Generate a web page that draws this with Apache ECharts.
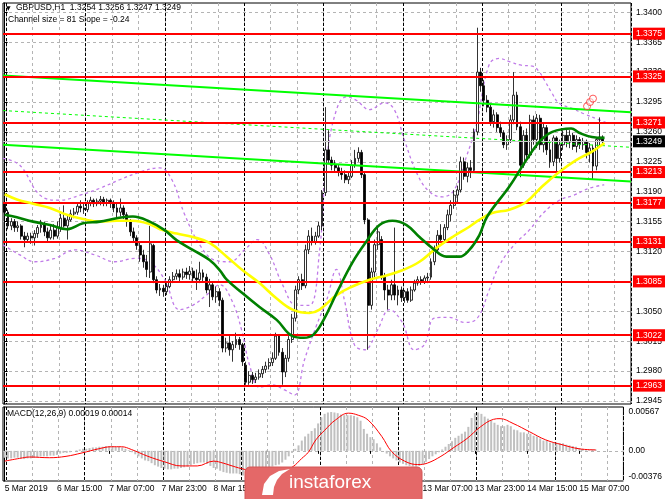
<!DOCTYPE html>
<html>
<head>
<meta charset="utf-8">
<script src="https://cdn.jsdelivr.net/npm/echarts@6/dist/echarts.min.js"></script>
<style>
  html, body { margin: 0; padding: 0; background: #fff; }
  #chart { width: 665px; height: 499px; }
</style>
</head>
<body>
<div id="chart"></div>
<script>
// GBPUSD H1, 5 Mar 23:00 .. 15 Mar 12:00 — [open, close, low, high]
const ohlc = [
  [1.3177,1.3166,1.3164,1.3180],[1.3166,1.3150,1.3146,1.3169],[1.3150,1.3155,1.3145,1.3159],[1.3155,1.3148,1.3143,1.3158],
  [1.3148,1.3150,1.3143,1.3155],[1.3150,1.3138,1.3134,1.3152],[1.3138,1.3134,1.3125,1.3143],[1.3134,1.3138,1.3130,1.3142],
  [1.3138,1.3136,1.3129,1.3142],[1.3136,1.3141,1.3127,1.3145],[1.3141,1.3148,1.3136,1.3151],[1.3148,1.3151,1.3142,1.3157],
  [1.3151,1.3143,1.3138,1.3155],[1.3143,1.3136,1.3131,1.3148],[1.3136,1.3145,1.3134,1.3150],[1.3145,1.3138,1.3134,1.3152],
  [1.3138,1.3148,1.3135,1.3155],[1.3148,1.3159,1.3143,1.3164],[1.3159,1.3150,1.3148,1.3174],[1.3150,1.3157,1.3134,1.3163],
  [1.3157,1.3164,1.3155,1.3169],[1.3164,1.3166,1.3159,1.3171],[1.3166,1.3173,1.3163,1.3177],[1.3173,1.3171,1.3166,1.3180],
  [1.3171,1.3169,1.3164,1.3176],[1.3169,1.3177,1.3166,1.3180],[1.3177,1.3180,1.3173,1.3184],[1.3180,1.3176,1.3172,1.3182],
  [1.3176,1.3179,1.3173,1.3182],[1.3179,1.3181,1.3174,1.3185],[1.3181,1.3177,1.3173,1.3184],[1.3177,1.3180,1.3173,1.3182],
  [1.3180,1.3177,1.3171,1.3182],[1.3177,1.3171,1.3166,1.3180],[1.3171,1.3166,1.3159,1.3176],[1.3166,1.3171,1.3161,1.3182],
  [1.3171,1.3163,1.3158,1.3174],[1.3163,1.3155,1.3149,1.3166],[1.3155,1.3143,1.3138,1.3158],[1.3143,1.3136,1.3131,1.3148],
  [1.3136,1.3127,1.3122,1.3139],[1.3127,1.3116,1.3108,1.3130],[1.3116,1.3108,1.3101,1.3122],[1.3108,1.3099,1.3090,1.3116],
  [1.3096,1.3129,1.3089,1.3150],[1.3127,1.3087,1.3083,1.3129],[1.3087,1.3075,1.3071,1.3091],[1.3075,1.3077,1.3068,1.3082],
  [1.3077,1.3073,1.3067,1.3081],[1.3073,1.3079,1.3069,1.3083],[1.3079,1.3087,1.3077,1.3091],[1.3087,1.3091,1.3083,1.3096],
  [1.3091,1.3094,1.3087,1.3099],[1.3094,1.3090,1.3085,1.3099],[1.3090,1.3096,1.3087,1.3100],[1.3096,1.3093,1.3088,1.3101],
  [1.3093,1.3097,1.3087,1.3103],[1.3097,1.3089,1.3084,1.3101],[1.3089,1.3087,1.3075,1.3099],[1.3087,1.3095,1.3083,1.3108],
  [1.3095,1.3090,1.3085,1.3099],[1.3090,1.3075,1.3071,1.3094],[1.3075,1.3081,1.3055,1.3088],[1.3081,1.3067,1.3063,1.3084],
  [1.3067,1.3073,1.3060,1.3079],[1.3073,1.3063,1.3056,1.3077],[1.3063,1.3007,1.3002,1.3066],[1.3007,1.3013,1.3002,1.3019],
  [1.3013,1.3005,1.2998,1.3021],[1.3005,1.3011,1.2991,1.3015],[1.3011,1.3017,1.3007,1.3025],[1.3017,1.3011,1.3005,1.3020],
  [1.3011,1.2991,1.2986,1.3013],[1.2987,1.2967,1.2964,1.2991],[1.2967,1.2975,1.2964,1.2980],[1.2975,1.2970,1.2965,1.2979],
  [1.2970,1.2973,1.2966,1.2978],[1.2973,1.2977,1.2970,1.2982],[1.2977,1.2982,1.2972,1.2986],[1.2982,1.2986,1.2978,1.2991],
  [1.2986,1.2990,1.2982,1.2995],[1.2990,1.2995,1.2986,1.3002],[1.2995,1.3021,1.2993,1.3025],[1.3021,1.3002,1.2998,1.3023],
  [1.3002,1.2979,1.2964,1.3007],[1.2979,1.2995,1.2973,1.2999],[1.2995,1.3017,1.2991,1.3021],[1.3017,1.3042,1.3013,1.3047],
  [1.3042,1.3075,1.3038,1.3080],[1.3075,1.3087,1.3070,1.3091],[1.3087,1.3080,1.3075,1.3094],[1.3080,1.3122,1.3077,1.3128],
  [1.3122,1.3138,1.3117,1.3145],[1.3138,1.3131,1.3127,1.3148],[1.3131,1.3138,1.3128,1.3143],[1.3138,1.3150,1.3136,1.3155],
  [1.3150,1.3189,1.3145,1.3192],[1.3189,1.3239,1.3185,1.3289],[1.3239,1.3227,1.3224,1.3262],[1.3227,1.3221,1.3215,1.3231],
  [1.3221,1.3218,1.3213,1.3227],[1.3218,1.3213,1.3208,1.3222],[1.3213,1.3210,1.3204,1.3218],[1.3210,1.3204,1.3200,1.3215],
  [1.3204,1.3208,1.3199,1.3213],[1.3208,1.3221,1.3206,1.3227],[1.3221,1.3229,1.3218,1.3239],[1.3229,1.3236,1.3225,1.3242],
  [1.3236,1.3210,1.3206,1.3239],[1.3210,1.3157,1.3152,1.3213],[1.3157,1.3057,1.3005,1.3159],[1.3057,1.3096,1.3052,1.3101],
  [1.3096,1.3128,1.3089,1.3134],[1.3128,1.3143,1.3122,1.3148],[1.3134,1.3090,1.3087,1.3138],[1.3090,1.3075,1.3063,1.3095],
  [1.3075,1.3069,1.3052,1.3081],[1.3069,1.3081,1.3063,1.3087],[1.3081,1.3069,1.3063,1.3148],[1.3069,1.3075,1.3057,1.3080],
  [1.3075,1.3066,1.3061,1.3079],[1.3066,1.3073,1.3060,1.3075],[1.3073,1.3063,1.3060,1.3077],[1.3063,1.3075,1.3061,1.3079],
  [1.3075,1.3083,1.3073,1.3087],[1.3083,1.3087,1.3080,1.3091],[1.3087,1.3084,1.3081,1.3091],[1.3084,1.3089,1.3082,1.3092],
  [1.3089,1.3090,1.3083,1.3095],[1.3090,1.3108,1.3087,1.3112],[1.3108,1.3122,1.3104,1.3127],[1.3122,1.3139,1.3119,1.3145],
  [1.3139,1.3134,1.3131,1.3152],[1.3134,1.3148,1.3131,1.3152],[1.3148,1.3163,1.3145,1.3169],[1.3163,1.3174,1.3155,1.3180],
  [1.3174,1.3186,1.3170,1.3192],[1.3186,1.3192,1.3178,1.3197],[1.3192,1.3225,1.3189,1.3231],[1.3225,1.3208,1.3204,1.3230],
  [1.3208,1.3218,1.3201,1.3224],[1.3218,1.3215,1.3206,1.3227],[1.3215,1.3260,1.3213,1.3264],[1.3260,1.3330,1.3256,1.3382],
  [1.3330,1.3314,1.3307,1.3335],[1.3314,1.3297,1.3290,1.3321],[1.3297,1.3289,1.3283,1.3303],[1.3289,1.3272,1.3267,1.3293],
  [1.3272,1.3280,1.3265,1.3286],[1.3280,1.3265,1.3260,1.3283],[1.3265,1.3259,1.3254,1.3272],[1.3259,1.3245,1.3241,1.3262],
  [1.3245,1.3251,1.3239,1.3256],[1.3251,1.3274,1.3247,1.3280],[1.3274,1.3303,1.3269,1.3330],[1.3303,1.3266,1.3262,1.3307],
  [1.3266,1.3221,1.3207,1.3272],[1.3221,1.3256,1.3218,1.3262],[1.3256,1.3233,1.3227,1.3264],[1.3233,1.3274,1.3229,1.3280],
  [1.3274,1.3251,1.3245,1.3279],[1.3251,1.3276,1.3241,1.3281],[1.3276,1.3245,1.3239,1.3280],[1.3245,1.3265,1.3236,1.3270],
  [1.3265,1.3239,1.3233,1.3268],[1.3239,1.3225,1.3218,1.3251],[1.3225,1.3253,1.3220,1.3256],[1.3253,1.3229,1.3213,1.3255],
  [1.3229,1.3245,1.3224,1.3251],[1.3245,1.3256,1.3239,1.3262],[1.3256,1.3248,1.3242,1.3264],[1.3248,1.3256,1.3241,1.3262],
  [1.3256,1.3243,1.3239,1.3259],[1.3243,1.3251,1.3236,1.3256],[1.3251,1.3245,1.3240,1.3254],[1.3245,1.3249,1.3239,1.3253],
  [1.3249,1.3236,1.3229,1.3251],[1.3236,1.3241,1.3224,1.3247],[1.3241,1.3220,1.3204,1.3245],[1.3220,1.3251,1.3215,1.3254],
  [1.3251,1.3254,1.3243,1.3277],[1.3254,1.3249,1.3247,1.3256]
];

// moving averages, read as [bar, price]
const maGreen = [
  [0,1.3163],[3.7,1.3160],[8.6,1.3155],[13.7,1.3151],[18.8,1.3146],[23.7,1.3153],[28.8,1.3155],[33.9,1.3159],
  [38.8,1.3161],[43.9,1.3155],[48.4,1.3145],[52.1,1.3133],[56.9,1.3122],[62,1.3110],[65.1,1.3098],[67.2,1.3087],
  [72,1.3071],[77.1,1.3055],[82.3,1.3040],[87.1,1.3021],[90.5,1.3019],[93.5,1.3023],[96.5,1.3040],[100.4,1.3071],
  [105.2,1.3107],[109.5,1.3132],[113.4,1.3151],[117.3,1.3156],[121.6,1.3151],[125.5,1.3137],[129.4,1.3124],
  [133.6,1.3114],[137.6,1.3114],[140.6,1.3122],[143.6,1.3139],[146,1.3161],[152.7,1.3196],[157.8,1.3227],
  [161.9,1.3249],[165.7,1.3260],[171.4,1.3264],[173.8,1.3259],[177.7,1.3254],[181.5,1.3253]
];
const maYellow = [
  [0,1.3187],[3.7,1.3181],[8.6,1.3176],[13.7,1.3171],[18.8,1.3163],[23.7,1.3158],[28.8,1.3155],[33.9,1.3156],
  [38.8,1.3156],[43.9,1.3152],[47,1.3146],[52.1,1.3141],[56.9,1.3137],[62,1.3130],[67.2,1.3114],[72,1.3098],
  [77.1,1.3083],[82.3,1.3065],[87.1,1.3052],[92.2,1.3048],[95.3,1.3052],[100.4,1.3069],[105.2,1.3079],[110.4,1.3087],
  [115.5,1.3092],[120.3,1.3098],[125.5,1.3108],[130.6,1.3124],[135.5,1.3137],[140.6,1.3149],[143.6,1.3157],
  [147.5,1.3165],[152.7,1.3169],[157.8,1.3178],[162.6,1.3196],[167.8,1.3213],[172.9,1.3227],[177.7,1.3237],[181.5,1.3247]
];
const bandUpper = [
  [-0.5,1.3229],[4.6,1.3221],[10.7,1.3186],[16.7,1.3180],[22.8,1.3186],[28.8,1.3194],[34.8,1.3204],[40.9,1.3213],
  [46.9,1.3218],[50.6,1.3204],[54.5,1.3163],[59,1.3128],[63.5,1.3110],[68.1,1.3108],[72.6,1.3122],[76.5,1.3134],
  [80.2,1.3116],[84.1,1.3081],[88.3,1.3057],[92.2,1.3057],[95.3,1.3122],[97.4,1.3227],[100.4,1.3286],[103.4,1.3301],
  [106.4,1.3297],[110.4,1.3286],[114.9,1.3294],[117.9,1.3286],[120.9,1.3251],[124.9,1.3210],[128.5,1.3190],
  [132.4,1.3184],[136,1.3192],[139.7,1.3231],[142.7,1.3268],[146.6,1.3339],[149.7,1.3346],[152.9,1.3342],
  [156.5,1.3338],[159.7,1.3337],[161.6,1.3331],[163.4,1.3320],[165.5,1.3306],[167.6,1.3294],[171.4,1.3288],
  [175.4,1.3281],[179.9,1.3274],[182,1.3271]
];
const bandLower = [
  [-0.5,1.3128],[4.6,1.3116],[9.2,1.3108],[15.2,1.3112],[21.2,1.3122],[27.3,1.3116],[33.3,1.3108],[39.4,1.3112],
  [43.9,1.3108],[48.4,1.3087],[52.9,1.3052],[56.9,1.3057],[61.1,1.3069],[65.1,1.3081],[68.7,1.3063],[71.7,1.3028],
  [74.1,1.2987],[77.1,1.2961],[80.8,1.2964],[84.7,1.2958],[87.7,1.2952],[90.7,1.2993],[94.4,1.3034],[97.4,1.3063],
  [100.4,1.3099],[102.8,1.3063],[105.8,1.3011],[108.9,1.3005],[112.8,1.3028],[116.4,1.3052],[120.3,1.3037],
  [123.9,1.3005],[127,1.3011],[130,1.3042],[134.5,1.3043],[139.1,1.3037],[143,1.3042],[146.6,1.3075],[149.7,1.3104],
  [154.2,1.3128],[158.7,1.3145],[163.2,1.3166],[167.8,1.3180],[172.3,1.3186],[176.8,1.3194],[181.4,1.3198]
];

// regression channel end points [bar, price]
const channelUpper = [[-0.5,1.3326],[189.5,1.3283]];
const channelMid = [[-0.5,1.3285],[189.5,1.3242]];
const channelLower = [[-0.5,1.3245],[189.5,1.3202]];

const levels = [1.3375, 1.3325, 1.3271, 1.3213, 1.3177, 1.3131, 1.3085, 1.3022, 1.2963];
const lastPrice = 1.3249;
const markers = [[176.2,1.3290],[177.1,1.3295],[178,1.3299]];

const priceTicks = [1.2945,1.2980,1.3015,1.3050,1.3085,1.3120,1.3155,1.3190,1.3225,1.3260,1.3295,1.3330,1.3365,1.3400];
const tickLabels = ['5 Mar 2019','6 Mar 15:00','7 Mar 07:00','7 Mar 23:00','8 Mar 15:00','11 Mar 07:00',
  '11 Mar 23:00','12 Mar 15:00','13 Mar 07:00','13 Mar 23:00','14 Mar 15:00','15 Mar 07:00'];

// MACD(12,26,9)
const macdHist = [
  -0.0010,-0.0011,-0.0011,-0.0010,-0.0010,-0.0011,-0.0012,-0.0011,-0.0011,-0.0010,-0.0009,-0.0008,
  -0.0008,-0.0008,-0.0007,-0.0007,-0.0006,-0.0004,-0.0003,-0.0003,-0.0002,0.0000,0.0001,0.0002,
  0.0003,0.0003,0.0004,0.0005,0.0005,0.0006,0.0006,0.0007,0.0007,0.0007,0.0006,0.0006,0.0005,0.0003,0.0001,
  -0.0002,-0.0005,-0.0008,-0.0011,-0.0014,-0.0015,-0.0018,-0.0021,-0.0023,-0.0025,-0.0026,-0.0027,
  -0.0027,-0.0026,-0.0026,-0.0025,-0.0024,-0.0023,-0.0021,-0.0019,-0.0018,-0.0017,-0.0017,-0.0019,-0.0022,-0.0025,
  -0.0026,-0.0029,-0.0031,-0.0032,-0.0033,-0.0033,-0.0033,-0.0034,
  -0.0036,-0.00376,-0.0037,-0.0036,-0.0035,-0.0034,-0.0032,-0.0030,-0.0028,-0.0023,-0.0021,-0.0020,-0.0017,-0.0013,-0.0008,-0.0003,
  0.0003,0.0008,0.0015,0.0021,0.0025,0.0029,0.0033,0.0040,0.0049,0.0054,
  0.0056,0.00567,0.0056,0.0055,0.0053,0.0052,0.0052,0.0052,
  0.0051,0.0049,0.0044,0.0032,0.0025,0.0020,0.0017,0.0011,0.0005,
  0.0000,-0.0004,-0.0008,-0.0011,-0.0014,-0.0017,-0.0019,-0.0021,-0.0022,-0.0023,-0.0023,-0.0022,
  -0.0020,-0.0016,-0.0012,-0.0008,-0.0005,-0.0002,
  0.0002,0.0006,0.0010,0.0014,0.0019,0.0022,0.0025,0.0028,0.0035,0.0048,0.0055,
  0.0056,0.0054,0.0050,0.0047,0.0044,0.0041,0.0038,0.0036,0.0036,0.0038,0.0036,0.0031,0.0030,0.0027,0.0027,
  0.0025,0.0025,0.0022,0.0021,0.0018,0.0015,0.0015,0.0012,0.0012,0.0012,0.0011,0.0011,0.0009,0.0008,0.0007,
  0.0006,0.0004,0.0003,0.0001,0.0001,0.0002,0.00019
];
const macdSignal = [
  [0,-0.0015],[4.6,-0.0011],[7.7,-0.0009],[13.7,-0.0010],[18.8,-0.0008],[23.7,-0.0003],[28.8,0.0003],[32.7,0.0006],
  [35.8,0.0006],[38.8,0.0002],[43.9,-0.0008],[49,-0.0016],[54,-0.0022],[59,-0.0022],[64,-0.0015],[67,-0.0018],
  [69,-0.0021],[72.6,-0.0026],[77,-0.0030],[82,-0.0031],[86,-0.0027],[88.3,-0.0023],[91,-0.0011],[93,-0.0002],
  [95.3,0.0016],[98,0.0030],[101.3,0.0045],[105.3,0.0055],[108.3,0.0052],[111.3,0.0045],[115.5,0.0021],
  [118.5,-0.0001],[122.5,-0.0015],[126.5,-0.0020],[129.4,-0.0018],[133.6,-0.0008],[137.6,0.0005],[141.6,0.0018],
  [145.7,0.0035],[149.7,0.0046],[151.7,0.0047],[155.7,0.0040],[160.7,0.0028],[165.7,0.0016],[170.7,0.0009],
  [175.9,0.0003],[181,0.00014]
];
const macdTicks = [-0.00376, 0, 0.00567];
const macdTickText = ['-0.00376', '0.00', '0.00567'];

const NSLOT = 190;
const slots = Array.from({ length: NSLOT }, (_, i) => String(i));
const FONT = 'Liberation Sans';
const gridStyle = { color: '#b4b4b4', width: 1, type: [3, 3] };
const dayStyle = { color: '#000', width: 1, type: [3, 2] };
const bandStyle = { color: '#c07be8', width: 1.3, type: [3, 3] };

function catAxis(grid, lineStyle, every, offset, withLabels) {
  return {
    type: 'category', gridIndex: grid, data: slots, boundaryGap: true,
    axisLine: { show: false },
    axisTick: withLabels
      ? { show: true, alignWithLabel: true, length: 3, interval: i => i % 16 === 0, lineStyle: { color: '#000' } }
      : { show: false },
    axisLabel: withLabels
      ? { show: true, interval: i => i % 16 === 0 && i / 16 < tickLabels.length,
          formatter: (v, i) => tickLabels[i / 16], align: 'left', fontSize: 8.5, color: '#000', margin: 3, fontFamily: FONT }
      : { show: false },
    splitLine: { show: true, interval: i => i % every === offset, lineStyle: lineStyle }
  };
}
function valAxis(grid) {
  return { type: 'value', gridIndex: grid, min: -0.5, max: NSLOT - 0.5, show: false };
}
function priceTag(v, bg) {
  return { show: true, position: 'end', formatter: v.toFixed(4), color: '#fff', backgroundColor: bg,
           padding: [2, 3, 1, 3], fontSize: 8.5, fontFamily: FONT, distance: 2 };
}

const levelLines = levels.map(v => ({
  yAxis: v, lineStyle: { color: '#ff0000', width: 2, type: 'solid' }, label: priceTag(v, '#ff0000')
}));
const priceLine = [{
  yAxis: lastPrice, lineStyle: { color: '#c8c8c8', width: 1, type: 'solid' }, label: priceTag(lastPrice, '#000')
}];

const last = ohlc[ohlc.length - 1];
const headline = 'GBPUSD,H1  ' + [last[0], last[3], last[2], last[1]].map(v => v.toFixed(4)).join(' ');
const chart = echarts.init(document.getElementById('chart'));

chart.setOption({
  animation: false,
  backgroundColor: '#ffffff',
  textStyle: { fontFamily: FONT },
  grid: [
    { left: 3, top: 3, width: 629, height: 401, show: true, borderColor: '#000', borderWidth: 1 },
    { left: 3, top: 407, width: 629, height: 74, show: true, borderColor: '#000', borderWidth: 1 }
  ],
  xAxis: [
    catAxis(0, gridStyle, 8, 1, false),
    valAxis(0),
    catAxis(0, dayStyle, 24, 1, false),
    catAxis(1, gridStyle, 8, 1, true),
    valAxis(1),
    catAxis(1, dayStyle, 24, 1, false)
  ],
  yAxis: [
    {
      type: 'value', gridIndex: 0, position: 'right', min: 1.29415, max: 1.34109,
      axisLine: { show: true, lineStyle: { color: '#000' } },
      axisTick: { show: true, length: 3, customValues: priceTicks, lineStyle: { color: '#000' } },
      axisLabel: { customValues: priceTicks, formatter: v => v.toFixed(4), fontSize: 8.5, color: '#000', margin: 5, fontFamily: FONT },
      splitLine: { show: true, lineStyle: gridStyle }
    },
    {
      type: 'value', gridIndex: 1, position: 'right', min: -0.0044, max: 0.0064,
      axisLine: { show: true, lineStyle: { color: '#000' } },
      axisTick: { show: false, customValues: [0] },
      axisLabel: {
        customValues: macdTicks, fontSize: 8.5, color: '#000', margin: 5, fontFamily: FONT,
        formatter: v => {
          let best = 0;
          macdTicks.forEach((t, k) => { if (Math.abs(t - v) < Math.abs(macdTicks[best] - v)) best = k; });
          return macdTickText[best];
        }
      },
      splitLine: { show: true, lineStyle: gridStyle }
    }
  ],
  series: [
    {
      type: 'line', xAxisIndex: 1, yAxisIndex: 0, data: bandUpper, smooth: 0.4, showSymbol: false, z: 2,
      lineStyle: bandStyle
    },
    {
      type: 'line', xAxisIndex: 1, yAxisIndex: 0, data: bandLower, smooth: 0.4, showSymbol: false, z: 2,
      lineStyle: bandStyle
    },
    {
      type: 'candlestick', xAxisIndex: 0, yAxisIndex: 0, data: ohlc, barWidth: 2.4, z: 3,
      itemStyle: { color: '#ffffff', color0: '#000000', borderColor: '#000000', borderColor0: '#000000', borderWidth: 0.8 }
    },
    {
      type: 'line', xAxisIndex: 1, yAxisIndex: 0, data: channelUpper, showSymbol: false, z: 4,
      lineStyle: { color: '#00ff00', width: 2 },
      markLine: { symbol: ['none', 'none'], silent: true, animation: false, precision: 5, data: levelLines }
    },
    {
      type: 'line', xAxisIndex: 1, yAxisIndex: 0, data: channelMid, showSymbol: false, z: 4,
      lineStyle: { color: '#00ff00', width: 1, type: [3, 3] },
      markLine: { symbol: ['none', 'none'], silent: true, animation: false, precision: 5, data: priceLine }
    },
    {
      type: 'line', xAxisIndex: 1, yAxisIndex: 0, data: channelLower, showSymbol: false, z: 4,
      lineStyle: { color: '#00ff00', width: 2 }
    },
    {
      type: 'line', xAxisIndex: 1, yAxisIndex: 0, data: maYellow, smooth: 0.4, showSymbol: false, z: 5,
      lineStyle: { color: '#ffff00', width: 2.6 }
    },
    {
      type: 'line', xAxisIndex: 1, yAxisIndex: 0, data: maGreen, smooth: 0.4, showSymbol: false, z: 5,
      lineStyle: { color: '#008000', width: 2.6 }
    },
    {
      type: 'scatter', xAxisIndex: 1, yAxisIndex: 0, data: markers, symbol: 'circle', symbolSize: 7, z: 6,
      itemStyle: { color: 'rgba(255,255,255,0.6)', borderColor: '#ff3030', borderWidth: 1 }
    },
    {
      type: 'bar', xAxisIndex: 3, yAxisIndex: 1, data: macdHist, barWidth: 2, z: 2,
      itemStyle: { color: '#c0c0c0' }
    },
    {
      type: 'line', xAxisIndex: 4, yAxisIndex: 1, data: macdSignal, smooth: 0.4, showSymbol: false, z: 3,
      lineStyle: { color: '#ff0000', width: 1 }
    }
  ],
  graphic: [
    { type: 'text', x: 6, y: 8, style: { text: '▼', font: '6px "DejaVu Sans"', fill: '#000', textVerticalAlign: 'middle' } },
    { type: 'text', x: 16, y: 8, style: { text: headline,
      font: '8.5px "Liberation Sans"', fill: '#000', textVerticalAlign: 'middle' } },
    { type: 'text', x: 8, y: 20, style: { text: 'Channel size = 81 Slope = -0.24',
      font: '8.5px "Liberation Sans"', fill: '#000', textVerticalAlign: 'middle' } },
    { type: 'text', x: 7, y: 414, style: { text: 'MACD(12,26,9) ' + macdHist[macdHist.length - 1].toFixed(5) + ' ' +
      macdSignal[macdSignal.length - 1][1].toFixed(5), font: '8.5px "Liberation Sans"', fill: '#000', textVerticalAlign: 'middle' } },
    { type: 'rect', z: 100, shape: { x: 245, y: 467, width: 177, height: 40, r: 5 },
      style: { fill: '#e46868', stroke: '#d45656', lineWidth: 1 } },
    { type: 'polygon', z: 101, shape: { points: [[262,495],[264,484],[270,476],[279,471],[290,469],[282,474],[277,480],[274,487],[273,495]] },
      style: { fill: '#ffffff' } },
    { type: 'text', z: 101, x: 289, y: 483, style: { text: 'instaforex', font: '19px "Liberation Sans"', fill: '#ffffff',
      textVerticalAlign: 'middle' } }
  ]
});
</script>
</body>
</html>
